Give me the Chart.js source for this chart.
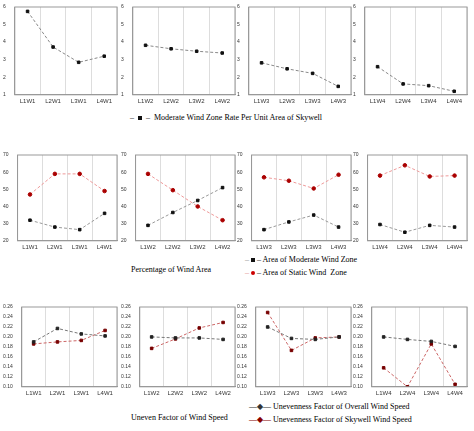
<!DOCTYPE html>
<html><head><meta charset="utf-8">
<script src="https://cdn.jsdelivr.net/npm/chart.js@4"></script>
<style>
body{margin:0;width:474px;height:431px;background:#fff;position:relative;overflow:hidden;font-family:"Liberation Serif",serif}
.t{position:absolute;font-size:8px;color:#000;white-space:nowrap}
.mk{display:inline-block;width:4px;height:4px;margin:0 2px;vertical-align:middle}
</style></head><body>
<div class="t" style="left:130px;top:113px">– <span class="mk" style="background:#111"></span> – &nbsp;Moderate Wind Zone Rate Per Unit Area of Skywell</div>
<div class="t" style="left:131px;top:265px">Percentage of Wind Area</div>
<div class="t" style="left:245px;top:255px"><span style="color:#888">–</span><span class="mk" style="background:#111"></span>– Area of Moderate Wind Zone</div>
<div class="t" style="left:245px;top:268px"><span style="color:#d88">–</span><span class="mk" style="background:#c00;border-radius:50%"></span>– Area of Static Wind&nbsp; Zone</div>
<div class="t" style="left:131px;top:413px">Uneven Factor of Wind Speed</div>
<div class="t" style="left:249px;top:402px"><span style="color:#333">—◆—</span> Unevenness Factor of Overall Wind Speed</div>
<div class="t" style="left:249px;top:415px"><span style="color:#800">—◆—</span> Unevenness Factor of Skywell Wind Speed</div>
<script>
var cats = [
  ['L1W1','L2W1','L3W1','L4W1'],
  ['L1W2','L2W2','L3W2','L4W2'],
  ['L1W3','L2W3','L3W3','L4W3'],
  ['L1W4','L2W4','L3W4','L4W4']
];
var rate = [[5.75,3.72,2.85,3.2],[3.82,3.62,3.48,3.38],[2.82,2.48,2.22,1.48],[2.6,1.62,1.52,1.2]];
var moderate = [[32,28,26.5,36],[29,36.5,43.5,51],[26.5,31,35,28],[29.5,25,29,28]];
var stat = [[47,59,59,49],[59,49.5,40,32],[57,55,50.5,58.5],[58,64,57.5,58]];
var overall = [[0.19,0.217,0.206,0.202],[0.2,0.198,0.198,0.195],[0.22,0.197,0.195,0.2],[0.2,0.195,0.191,0.181]];
var skywell = [[0.186,0.19,0.193,0.213],[0.177,0.196,0.218,0.229],[0.249,0.173,0.198,0.2],[0.138,0.1,0.186,0.105]];

var lefts = [2,120,236,352], w = 120;

// grey box around each plot area
var boxPlugin = {id:'box', afterDraw:function(ch){
  var a = ch.chartArea, c = ch.ctx;
  c.save(); c.strokeStyle='#999'; c.lineWidth=1;
  c.strokeRect(a.left, a.top, a.right-a.left, a.bottom-a.top); c.restore();
}};

function ds(data, col, line){
  return {data:data, borderColor:line, backgroundColor:col, pointBackgroundColor:col, pointBorderColor:col,
    borderDash:[3,2], borderWidth:1, pointRadius:1.8, pointStyle:'rect'};
}
function make(top, h, i, sets, min, max, step, dec){
  var d = document.createElement('div');
  d.style.cssText='position:absolute;left:'+lefts[i]+'px;top:'+top+'px;width:'+w+'px;height:'+h+'px';
  var cv = document.createElement('canvas');
  d.appendChild(cv); document.body.appendChild(d);
  new Chart(cv, {type:'line', data:{labels:cats[i], datasets:sets}, plugins:[boxPlugin],
    options:{responsive:true, maintainAspectRatio:false, animation:false,
      layout:{padding:{top:3,right:3}},
      plugins:{legend:{display:false}, tooltip:{enabled:false}},
      scales:{
        x:{offset:true, grid:{offset:true, color:'#ddd', drawTicks:false}, border:{color:'#999'},
           ticks:{font:{size:6}, color:'#333', padding:3}},
        y:{min:min, max:max, grid:{display:false}, border:{color:'#999'},
           ticks:{stepSize:step, font:{size:5}, color:'#333', padding:1,
             callback:function(v){return v.toFixed(dec);}}}
      }}});
}
for (var i=0;i<4;i++){
  make(2, 106, i, [ds(rate[i],'#111','#888')], 1, 6, 1, 0);
  make(150, 104, i, [ds(moderate[i],'#111','#999'), Object.assign(ds(stat[i],'#a00','#e99'),{pointStyle:'circle'})], 20, 70, 10, 0);
  make(302, 98, i, [ds(overall[i],'#222','#777'), ds(skywell[i],'#700','#c66')], 0.1, 0.26, 0.02, 2);
}
</script>
</body></html>
